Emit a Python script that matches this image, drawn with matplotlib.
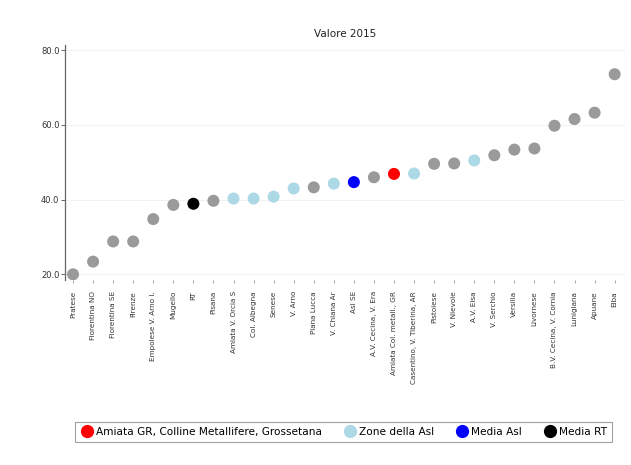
import numpy as np
import matplotlib
matplotlib.use("Agg")
import matplotlib.pyplot as plt
from matplotlib.lines import Line2D

zones = ['Pratese', 'Fiorentina NO', 'Fiorentina SE', 'Firenze', 'Empolese V. Arno I.',
         'Mugello', 'RT', 'Pisana', 'Amiata V. Orcia S', 'Col. Albegna', 'Senese',
         'V. Arno', 'Piana Lucca', 'V. Chiana Ar', 'Asl SE', 'A.V. Cecina, V. Era',
         'Amiata Col. metall., GR', 'Casentino, V. Tiberina, AR', 'Pistoiese', 'V. Nievole',
         'A.V. Elsa', 'V. Serchio', 'Versilia', 'Livornese', 'B.V. Cecina, V. Cornia',
         'Lunigiana', 'Apuane', 'Elba']
values = [20.0, 23.4, 28.8, 28.8, 34.8, 38.6, 38.9, 39.7, 40.3, 40.3, 40.8, 43.0,
          43.3, 44.3, 44.7, 46.0, 46.9, 47.0, 49.6, 49.7, 50.5, 51.9, 53.4, 53.7,
          59.8, 61.6, 63.3, 73.6]
groups = ['other'] * 6 + ['rt', 'other', 'asl', 'asl', 'asl', 'asl', 'other', 'asl',
          'media', 'other', 'zone', 'asl', 'other', 'other', 'asl', 'other', 'other',
          'other', 'other', 'other', 'other', 'other']

colors = {'other': '#9a9a9a', 'asl': '#add8e6', 'media': '#0000ff',
          'rt': '#000000', 'zone': '#ff0000'}

fig = plt.figure(figsize=(6.31, 4.65), dpi=100)
ax = fig.add_axes([0.103, 0.398, 0.887, 0.505])

x = np.arange(len(values))
ax.scatter(x, values, s=75, c=[colors[g] for g in groups], edgecolors='none', zorder=3)

ax.set_xlim(-0.4, 27.5)
ax.set_ylim(18.5, 81.4)
ax.set_yticks([20, 40, 60, 80])
ax.set_yticklabels(['20.0', '40.0', '60.0', '80.0'], fontsize=6, color='#333333')
ax.set_xticks(x)
ax.set_xticklabels(zones, rotation=90, fontsize=5.2, color='#333333')
ax.tick_params(axis='x', length=2, width=0.5, color='#888888', pad=6)
ax.tick_params(axis='y', length=3, width=0.7, color='#666666', pad=1)

for s in ['top', 'right', 'bottom']:
    ax.spines[s].set_visible(False)
ax.spines['left'].set_color('#666666')
ax.spines['left'].set_linewidth(0.9)
ax.grid(axis='y', color='#f0f0f0', linewidth=0.6)
ax.set_axisbelow(True)

ax.set_title('Valore 2015', fontsize=7.5, color='#222222', pad=6)

handles = [
    Line2D([], [], marker='o', ls='', color=colors['zone'], markersize=8.5),
    Line2D([], [], marker='o', ls='', color=colors['asl'], markersize=8.5),
    Line2D([], [], marker='o', ls='', color=colors['media'], markersize=8.5),
    Line2D([], [], marker='o', ls='', color=colors['rt'], markersize=8.5),
]
labels = ['Amiata GR, Colline Metallifere, Grossetana', 'Zone della Asl',
          'Media Asl', 'Media RT']
leg = fig.legend(handles, labels, loc='center', bbox_to_anchor=(0.545, 0.071),
                 ncol=4, fontsize=7.6, frameon=True, fancybox=False,
                 handletextpad=0.3, columnspacing=2.0, borderpad=0.5,
                 handlelength=1.2)
leg.get_frame().set_edgecolor('#888888')
leg.get_frame().set_linewidth(0.8)

fig.savefig('out.png', dpi=100)
